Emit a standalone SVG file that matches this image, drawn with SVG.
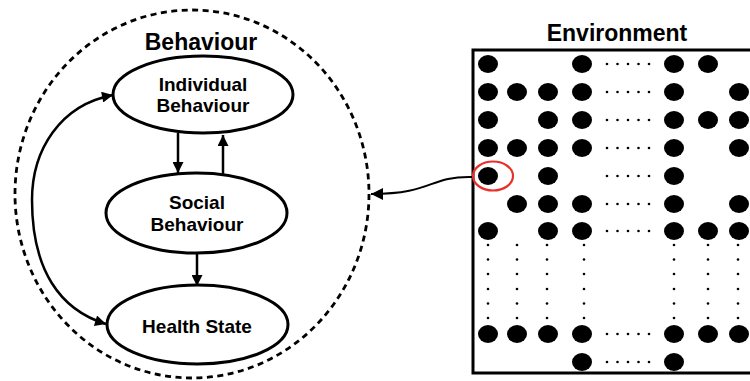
<svg xmlns="http://www.w3.org/2000/svg" width="750" height="381" viewBox="0 0 750 381">
  <defs>
    <marker id="arrow" viewBox="0 0 10 10" refX="10" refY="5" markerWidth="5" markerHeight="4.4" markerUnits="strokeWidth" orient="auto-start-reverse">
      <path d="M0,0 L10,5 L0,10 z" fill="#000"/>
    </marker>
    <marker id="arrow-thin" viewBox="0 0 10 10" refX="10" refY="5" markerWidth="7" markerHeight="6" markerUnits="strokeWidth" orient="auto-start-reverse">
      <path d="M0,0 L10,5 L0,10 z" fill="#000"/>
    </marker>
    <ellipse id="cell" rx="10" ry="9" fill="#000"/>
    <g id="hdots" fill="#000">
      <circle cx="0" cy="0" r="1.3"/>
      <circle cx="10.5" cy="0" r="1.3"/>
      <circle cx="21" cy="0" r="1.3"/>
      <circle cx="31.5" cy="0" r="1.3"/>
      <circle cx="42" cy="0" r="1.3"/>
    </g>
    <g id="vdots" fill="#000">
      <circle cx="0" cy="245" r="1.3"/>
      <circle cx="0" cy="259.5" r="1.3"/>
      <circle cx="0" cy="274" r="1.3"/>
      <circle cx="0" cy="289" r="1.3"/>
      <circle cx="0" cy="303.5" r="1.3"/>
      <circle cx="0" cy="318" r="1.3"/>
    </g>
  </defs>
  <style>
    .node { fill: #fff; stroke: #000; stroke-width: 3; }
    .label { font-family: "Liberation Sans", Arial, sans-serif; font-weight: bold; fill: #000; text-anchor: middle; }
    .edge { fill: none; stroke: #000; stroke-width: 2.5; marker-end: url(#arrow); }
  </style>
  <rect width="750" height="381" fill="#fff"/>

  <!-- behaviour boundary -->
  <g id="behaviour">
    <ellipse cx="192" cy="194" rx="177" ry="184" fill="none" stroke="#000" stroke-width="2.8" stroke-dasharray="6 4.5"/>
    <text class="label" x="201" y="50" font-size="23">Behaviour</text>
  </g>

  <g id="individual">
    <ellipse class="node" cx="203" cy="94.5" rx="90" ry="38.5"/>
    <text class="label" x="203" y="91" font-size="19">Individual</text>
    <text class="label" x="203" y="112" font-size="19">Behaviour</text>
  </g>

  <g id="social">
    <ellipse class="node" cx="196.5" cy="213" rx="90.5" ry="40"/>
    <text class="label" x="197" y="209" font-size="19">Social</text>
    <text class="label" x="197" y="231" font-size="19">Behaviour</text>
  </g>

  <g id="health">
    <ellipse class="node" cx="197.5" cy="324.5" rx="90.5" ry="39.5"/>
    <text class="label" x="197" y="333" font-size="19">Health State</text>
  </g>

  <!-- environment grid -->
  <g id="environment">
    <text class="label" x="617" y="41" font-size="23">Environment</text>
    <rect x="473" y="50" width="300" height="323" fill="none" stroke="#000" stroke-width="3"/>
    <!-- row 1 -->
    <use href="#cell" x="488" y="64"/><use href="#cell" x="582" y="64"/>
    <use href="#hdots" x="607" y="64"/>
    <use href="#cell" x="674" y="64"/><use href="#cell" x="708" y="64"/>
    <!-- row 2 -->
    <use href="#cell" x="488" y="92"/><use href="#cell" x="517" y="92"/><use href="#cell" x="548" y="92"/><use href="#cell" x="582" y="92"/>
    <use href="#hdots" x="607" y="92"/>
    <use href="#cell" x="674" y="92"/><use href="#cell" x="739" y="92"/>
    <!-- row 3 -->
    <use href="#cell" x="488" y="120"/><use href="#cell" x="548" y="120"/><use href="#cell" x="582" y="120"/>
    <use href="#hdots" x="607" y="120"/>
    <use href="#cell" x="674" y="120"/><use href="#cell" x="708" y="120"/><use href="#cell" x="739" y="120"/>
    <!-- row 4 -->
    <use href="#cell" x="488" y="148"/><use href="#cell" x="517" y="148"/><use href="#cell" x="548" y="148"/><use href="#cell" x="582" y="148"/>
    <use href="#hdots" x="607" y="148"/>
    <use href="#cell" x="674" y="148"/><use href="#cell" x="739" y="148"/>
    <!-- row 5 -->
    <use href="#cell" x="488" y="176"/><use href="#cell" x="548" y="176"/>
    <use href="#hdots" x="607" y="176"/>
    <use href="#cell" x="674" y="176"/>
    <!-- row 6 -->
    <use href="#cell" x="517" y="204"/><use href="#cell" x="548" y="204"/><use href="#cell" x="582" y="204"/>
    <use href="#hdots" x="607" y="204"/>
    <use href="#cell" x="674" y="204"/><use href="#cell" x="739" y="204"/>
    <!-- row 7 -->
    <use href="#cell" x="488" y="231"/><use href="#cell" x="548" y="231"/><use href="#cell" x="582" y="231"/>
    <use href="#hdots" x="607" y="231"/>
    <use href="#cell" x="674" y="231"/><use href="#cell" x="708" y="231"/><use href="#cell" x="739" y="231"/>
    <!-- vertical ellipsis -->
    <use href="#vdots" x="488"/><use href="#vdots" x="517"/><use href="#vdots" x="547"/><use href="#vdots" x="584"/>
    <use href="#vdots" x="674"/><use href="#vdots" x="708"/><use href="#vdots" x="738"/>
    <!-- row 8 -->
    <use href="#cell" x="488" y="334"/><use href="#cell" x="517" y="334"/><use href="#cell" x="548" y="334"/><use href="#cell" x="582" y="334"/>
    <use href="#hdots" x="607" y="334"/>
    <use href="#cell" x="674" y="334"/><use href="#cell" x="708" y="334"/><use href="#cell" x="739" y="334"/>
    <!-- row 9 -->
    <use href="#cell" x="582" y="362"/>
    <use href="#hdots" x="607" y="362"/>
    <use href="#cell" x="674" y="362"/>
    <!-- highlighted cell -->
    <ellipse cx="493" cy="176" rx="20" ry="14.5" fill="none" stroke="#e8302a" stroke-width="2.2"/>
  </g>

  <g id="connectors">
    <path class="edge" d="M178,133 L178,173"/>
    <path class="edge" d="M223,174 L223,135"/>
    <path class="edge" d="M197,253 L197,286"/>
    <path class="edge" d="M32,200 C32,270 60,310 106,324"/>
    <path class="edge" d="M32,200 C32,150 60,105 113,95"/>
    <path d="M472,177 C428,176 434,194 371,194" fill="none" stroke="#000" stroke-width="2" marker-end="url(#arrow-thin)"/>
  </g>
</svg>
